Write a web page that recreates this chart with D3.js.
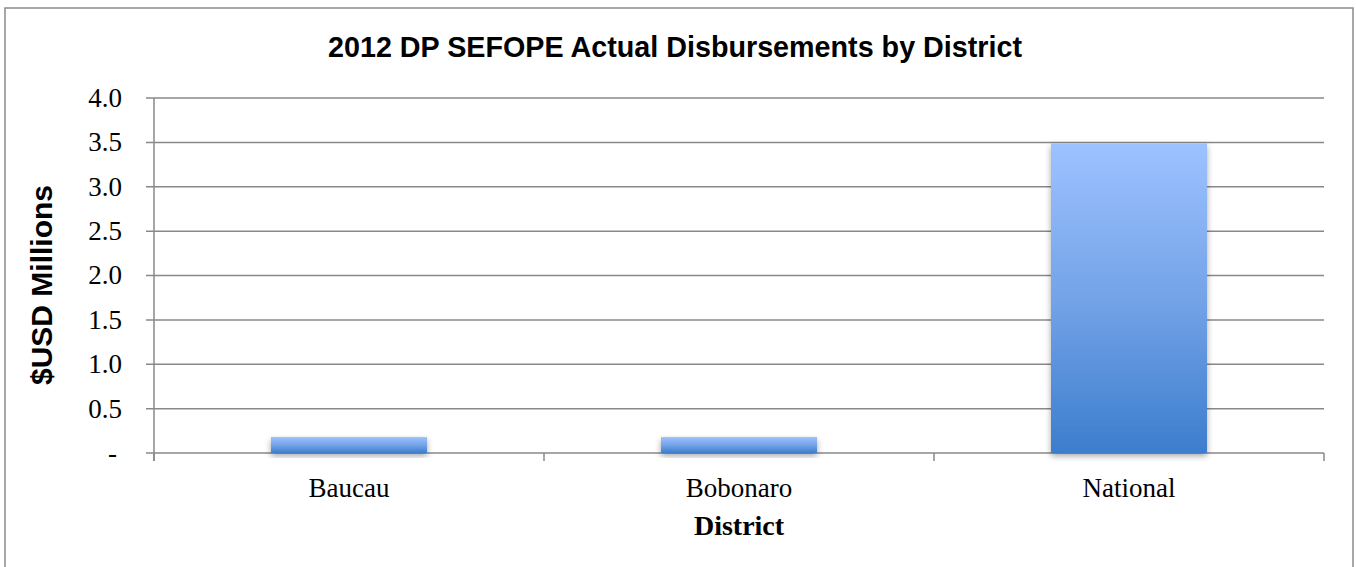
<!DOCTYPE html>
<html>
<head>
<meta charset="utf-8">
<script src="https://cdn.jsdelivr.net/npm/d3@7"></script>
<style>
  body { margin: 0; background: #fff; }
  svg { display: block; }
</style>
</head>
<body>
<div id="chart"></div>
<script>
// chart data
const districts = ["Baucau", "Bobonaro", "National"];
const disbursements = [0.18, 0.18, 3.49];
const yTicks = [0, 0.5, 1.0, 1.5, 2.0, 2.5, 3.0, 3.5, 4.0];

const W = 1356, H = 567;
const margin = { top: 98, right: 32, bottom: 114, left: 154 };

const svg = d3.select("#chart").append("svg")
  .attr("width", W)
  .attr("height", H);

// gradient + shadow for the bars
const defs = svg.append("defs");
const grad = defs.append("linearGradient")
  .attr("id", "barGrad")
  .attr("x1", 0).attr("y1", 0).attr("x2", 0).attr("y2", 1);
grad.append("stop").attr("offset", "0%").attr("stop-color", "#9dc2ff");
grad.append("stop").attr("offset", "50%").attr("stop-color", "#74a3e8");
grad.append("stop").attr("offset", "100%").attr("stop-color", "#3c7dcd");

const shadow = defs.append("filter")
  .attr("id", "shadow")
  .attr("x", "-10%").attr("y", "-10%")
  .attr("width", "120%").attr("height", "140%");
shadow.append("feDropShadow")
  .attr("dx", 0).attr("dy", 3)
  .attr("stdDeviation", 3)
  .attr("flood-color", "#000")
  .attr("flood-opacity", 0.35);

// outer frame
svg.append("rect")
  .attr("x", 5).attr("y", 8)
  .attr("width", 1348).attr("height", 570)
  .attr("fill", "none")
  .attr("stroke", "#8a8a8a")
  .attr("stroke-width", 1.5);

const x = d3.scaleBand()
  .domain(districts)
  .range([margin.left, W - margin.right])
  .paddingInner(0.6)
  .paddingOuter(0.3);

const y = d3.scaleLinear()
  .domain([0, 4])
  .range([H - margin.bottom, margin.top]);

const gridColor = "#888";

// horizontal gridlines (with small left tick)
svg.append("g")
  .selectAll("line")
  .data(yTicks)
  .join("line")
  .attr("x1", margin.left - 8)
  .attr("x2", W - margin.right)
  .attr("y1", d => y(d))
  .attr("y2", d => y(d))
  .attr("stroke", gridColor)
  .attr("stroke-width", 1.5);

// y axis line
svg.append("line")
  .attr("x1", margin.left).attr("x2", margin.left)
  .attr("y1", y(4)).attr("y2", y(0) + 8)
  .attr("stroke", gridColor)
  .attr("stroke-width", 1.5);

// category boundary ticks on the x axis
const bounds = d3.range(districts.length + 1).map(i => x.range()[0] + i * x.step());
svg.append("g")
  .selectAll("line")
  .data(bounds)
  .join("line")
  .attr("x1", d => d).attr("x2", d => d)
  .attr("y1", y(0)).attr("y2", y(0) + 8)
  .attr("stroke", gridColor)
  .attr("stroke-width", 1.5);

// y tick labels
svg.append("g")
  .selectAll("text")
  .data(yTicks)
  .join("text")
  .attr("x", d => d === 0 ? 117 : 122)
  .attr("y", d => y(d))
  .attr("dy", "0.33em")
  .attr("text-anchor", "end")
  .style("font-family", "'Liberation Serif', serif")
  .style("font-size", "27px")
  .attr("fill", "#000")
  .text(d => d === 0 ? "-" : d.toFixed(1));

// bars
svg.append("g")
  .selectAll("rect")
  .data(districts)
  .join("rect")
  .attr("x", d => x(d))
  .attr("y", (d, i) => y(disbursements[i]))
  .attr("width", x.bandwidth())
  .attr("height", (d, i) => y(0) - y(disbursements[i]))
  .attr("fill", "url(#barGrad)")
  .attr("filter", "url(#shadow)");

// x tick labels
svg.append("g")
  .selectAll("text")
  .data(districts)
  .join("text")
  .attr("x", d => x(d) + x.bandwidth() / 2)
  .attr("y", 497)
  .attr("text-anchor", "middle")
  .style("font-family", "'Liberation Serif', serif")
  .style("font-size", "27px")
  .attr("fill", "#000")
  .text(d => d);

// axis titles
svg.append("text")
  .attr("x", x.range()[0] + (x.range()[1] - x.range()[0]) / 2)
  .attr("y", 535)
  .attr("text-anchor", "middle")
  .style("font-family", "'Liberation Serif', serif")
  .style("font-size", "28px")
  .style("font-weight", "bold")
  .text("District");

svg.append("text")
  .attr("transform", "translate(52, 285) rotate(-90)")
  .attr("text-anchor", "middle")
  .style("font-family", "'Liberation Sans', Arial, sans-serif")
  .style("font-size", "30px")
  .style("font-weight", "bold")
  .text("$USD Millions");

// chart title
svg.append("text")
  .attr("x", 675)
  .attr("y", 57)
  .attr("text-anchor", "middle")
  .attr("textLength", 694)
  .attr("lengthAdjust", "spacingAndGlyphs")
  .style("font-family", "'Liberation Sans', Arial, sans-serif")
  .style("font-size", "30px")
  .style("font-weight", "bold")
  .text("2012 DP SEFOPE Actual Disbursements by District");
</script>
</body>
</html>
